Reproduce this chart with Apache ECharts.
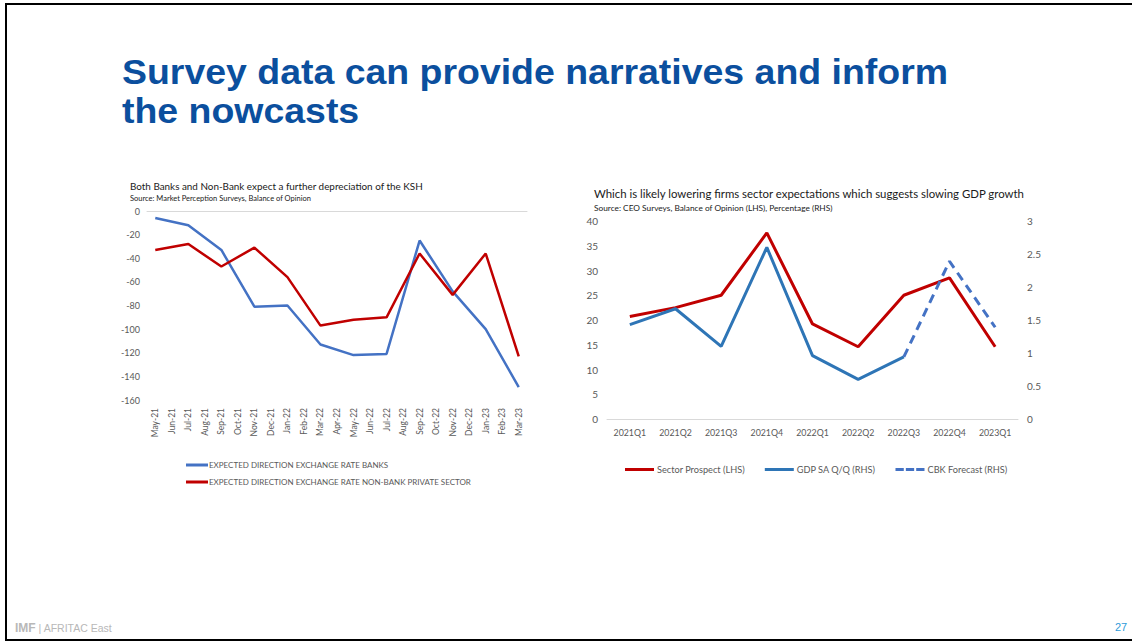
<!DOCTYPE html>
<html>
<head>
<meta charset="utf-8">
<title>Survey data can provide narratives and inform the nowcasts</title>
<script src="https://cdn.jsdelivr.net/npm/echarts@6/dist/echarts.min.js"></script>
<style>
  html, body { margin: 0; padding: 0; background: #fff; }
  #main { width: 1132px; height: 641px; }
</style>
</head>
<body>
<div id="main"></div>
<script>
// Monthly exchange-rate expectation survey (balance of opinion), bi-monthly readings
const months = ['May-21','Jun-21','Jul-21','Aug-21','Sep-21','Oct-21','Nov-21','Dec-21','Jan-22','Feb-22','Mar-22','Apr-22',
                'May-22','Jun-22','Jul-22','Aug-22','Sep-22','Oct-22','Nov-22','Dec-22','Jan-23','Feb-23','Mar-23'];
const banks   = [-6, null, -12, null, -33, null, -81, null, -80, null, -113, null,
                 -122, null, -121, null, -25, null, -68, null, -100, null, -149];
const nonBank = [-33, null, -28, null, -47, null, -31, null, -56, null, -97, null,
                 -92, null, -90, null, -36, null, -71, null, -36, null, -123];

// Quarterly CEO survey and GDP growth
const quarters = ['2021Q1','2021Q2','2021Q3','2021Q4','2022Q1','2022Q2','2022Q3','2022Q4','2023Q1'];
const sectorProspect = [20.7, 22.5, 25, 37.6, 19.2, 14.6, 25, 28.5, 14.6];
const gdpQoQ = [1.43, 1.67, 1.10, 2.60, 0.96, 0.60, 0.94, null, null];
const cbkForecast = [null, null, null, null, null, null, 0.94, 2.39, 1.39];

const leftTicks = { min: -160, max: 0, interval: 20 };
const rightLhsTicks = { min: 0, max: 40, interval: 5 };
const rightRhsTicks = { min: 0, max: 3, interval: 0.5 };

const FONT = 'Lato';
const AXIS_GREY = '#595959';
const RED = '#C00000';
const BLUE_L = '#4472C4';
const BLUE_R = '#2E75B6';
const HEAD_FONT = 'bold 35px "Liberation Sans", Arial, sans-serif';

// legend swatches: a solid bar and a three-dash bar
const SOLID_ICON = 'path://M0,0h28v3h-28z';
const DASH_ICON = 'path://M0,0h8v3h-8z M10,0h8v3h-8z M20,0h8v3h-8z';

const chart = echarts.init(document.getElementById('main'), null, { renderer: 'svg' });

chart.setOption({
  animation: false,
  textStyle: { fontFamily: FONT },
  grid: [
    { left: 147, top: 211, width: 380, height: 189, containLabel: false },
    { left: 607, top: 221, width: 411, height: 198, containLabel: false }
  ],
  xAxis: [
    {
      type: 'category', gridIndex: 0, data: months, position: 'bottom', boundaryGap: true,
      axisLine: { show: false }, axisTick: { show: false },
      axisLabel: { rotate: 90, interval: 0, color: AXIS_GREY, fontSize: 8.5, fontFamily: FONT, margin: 8 }
    },
    {
      type: 'category', gridIndex: 0, data: months, position: 'top', boundaryGap: true,
      axisLine: { show: true, lineStyle: { color: '#D9D9D9', width: 1 } },
      axisTick: { show: false }, axisLabel: { show: false }
    },
    {
      type: 'category', gridIndex: 1, data: quarters, boundaryGap: true,
      axisLine: { show: true, lineStyle: { color: '#D9D9D9', width: 1 } },
      axisTick: { show: false },
      axisLabel: { interval: 0, color: AXIS_GREY, fontSize: 8.8, fontFamily: FONT, margin: 9 }
    }
  ],
  yAxis: [
    {
      type: 'value', gridIndex: 0, min: leftTicks.min, max: leftTicks.max, interval: leftTicks.interval,
      axisLine: { show: false }, axisTick: { show: false }, splitLine: { show: false },
      axisLabel: { color: AXIS_GREY, fontSize: 9, fontFamily: FONT, margin: 7 }
    },
    {
      type: 'value', gridIndex: 1, position: 'left',
      min: rightLhsTicks.min, max: rightLhsTicks.max, interval: rightLhsTicks.interval,
      axisLine: { show: false }, axisTick: { show: false }, splitLine: { show: false },
      axisLabel: { color: AXIS_GREY, fontSize: 10, fontFamily: FONT, margin: 9 }
    },
    {
      type: 'value', gridIndex: 1, position: 'right',
      min: rightRhsTicks.min, max: rightRhsTicks.max, interval: rightRhsTicks.interval,
      axisLine: { show: false }, axisTick: { show: false }, splitLine: { show: false },
      axisLabel: { color: AXIS_GREY, fontSize: 10, fontFamily: FONT, margin: 9 }
    }
  ],
  legend: [
    {
      orient: 'vertical', left: 181, top: 456, itemWidth: 22, itemHeight: 3, itemGap: 9,
      symbolKeepAspect: false,
      data: [
        { name: 'EXPECTED DIRECTION EXCHANGE RATE BANKS', icon: SOLID_ICON },
        { name: 'EXPECTED DIRECTION EXCHANGE RATE NON-BANK PRIVATE SECTOR', icon: SOLID_ICON }
      ],
      textStyle: { color: AXIS_GREY, fontSize: 8, fontFamily: FONT, padding: [0, 0, 0, -4] },
      selectedMode: false
    },
    {
      orient: 'horizontal', left: 620, top: 460, itemWidth: 29, itemHeight: 3, itemGap: 20,
      symbolKeepAspect: false,
      data: [
        { name: 'Sector Prospect (LHS)', icon: SOLID_ICON },
        { name: 'GDP SA Q/Q (RHS)', icon: SOLID_ICON },
        { name: 'CBK Forecast (RHS)', icon: DASH_ICON }
      ],
      textStyle: { color: AXIS_GREY, fontSize: 9.2, fontFamily: FONT, padding: [0, 0, 0, -2] },
      selectedMode: false
    }
  ],
  series: [
    {
      name: 'EXPECTED DIRECTION EXCHANGE RATE BANKS', type: 'line', xAxisIndex: 0, yAxisIndex: 0,
      data: banks, connectNulls: true, showSymbol: false, symbol: 'none',
      lineStyle: { color: BLUE_L, width: 2.5 }, itemStyle: { color: BLUE_L }
    },
    {
      name: 'EXPECTED DIRECTION EXCHANGE RATE NON-BANK PRIVATE SECTOR', type: 'line', xAxisIndex: 0, yAxisIndex: 0,
      data: nonBank, connectNulls: true, showSymbol: false, symbol: 'none',
      lineStyle: { color: RED, width: 2.5 }, itemStyle: { color: RED }
    },
    {
      name: 'Sector Prospect (LHS)', type: 'line', xAxisIndex: 2, yAxisIndex: 1,
      data: sectorProspect, showSymbol: false, symbol: 'none',
      lineStyle: { color: RED, width: 3 }, itemStyle: { color: RED }
    },
    {
      name: 'GDP SA Q/Q (RHS)', type: 'line', xAxisIndex: 2, yAxisIndex: 2,
      data: gdpQoQ, showSymbol: false, symbol: 'none',
      lineStyle: { color: BLUE_R, width: 3 }, itemStyle: { color: BLUE_R }
    },
    {
      name: 'CBK Forecast (RHS)', type: 'line', xAxisIndex: 2, yAxisIndex: 2,
      data: cbkForecast, showSymbol: false, symbol: 'none',
      lineStyle: { color: BLUE_L, width: 3, type: [9, 6] }, itemStyle: { color: BLUE_L }
    }
  ],
  graphic: [
    // slide frame
    { type: 'rect', silent: true, shape: { x: 6, y: 4, width: 1140, height: 636 },
      style: { fill: 'none', stroke: '#000', lineWidth: 2 } },
    // slide headline, two lines
    { type: 'text', x: 122, y: 72, scaleX: 1.07, silent: true,
      style: { text: 'Survey data can provide narratives and inform', fill: '#0B4F9E',
               font: HEAD_FONT, lineHeight: 34, verticalAlign: 'middle' } },
    { type: 'text', x: 122, y: 111, scaleX: 1.07, silent: true,
      style: { text: 'the nowcasts', fill: '#0B4F9E',
               font: HEAD_FONT, lineHeight: 34, verticalAlign: 'middle' } },
    // left chart headings
    { type: 'text', left: 130, top: 181, silent: true,
      style: { text: 'Both Banks and Non-Bank expect a further depreciation of the KSH', fill: '#1a1a1a',
               font: '9.9px ' + FONT } },
    { type: 'text', left: 130, top: 194, silent: true,
      style: { text: 'Source: Market Perception Surveys, Balance of Opinion', fill: '#1a1a1a',
               font: '7.5px ' + FONT } },
    // right chart headings
    { type: 'text', left: 594, top: 188, silent: true,
      style: { text: 'Which is likely lowering firms sector expectations which suggests slowing GDP growth', fill: '#1a1a1a',
               font: '11.4px ' + FONT } },
    { type: 'text', left: 594, top: 204, silent: true,
      style: { text: 'Source: CEO Surveys, Balance of Opinion (LHS), Percentage (RHS)', fill: '#1a1a1a',
               font: '8.3px ' + FONT } },
    // footer
    { type: 'text', left: 15, top: 622, silent: true,
      style: { text: '{b|IMF} | AFRITAC East', fill: '#B8B8B8', font: '10.5px "Liberation Sans", Arial, sans-serif',
               rich: { b: { fontWeight: 'bold', fill: '#B8B8B8', font: 'bold 10.5px "Liberation Sans", Arial, sans-serif' } } } },
    { type: 'text', left: 1115, top: 621, silent: true,
      style: { text: '27', fill: '#2E9BD9', font: '11px "Liberation Sans", Arial, sans-serif' } }
  ]
});
</script>
</body>
</html>
